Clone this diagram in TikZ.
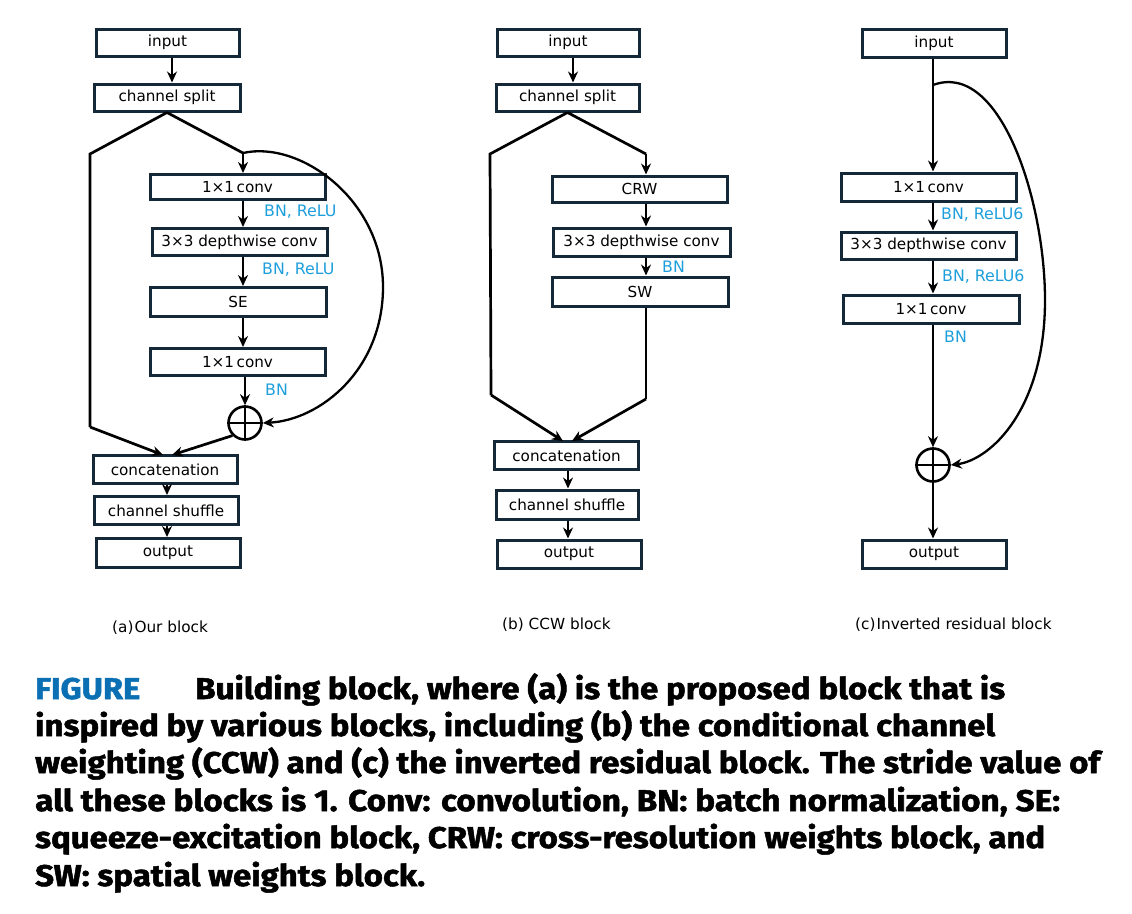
\documentclass[tikz,border=0pt]{standalone}
\usepackage{fontspec}
\usepackage{graphicx}
\usetikzlibrary{arrows.meta}
\newfontfamily\diagfont{DejaVu Sans}
\newfontfamily\capfont[BoldFeatures={FakeBold=1.6}]{Fira Sans}
\definecolor{boxc}{HTML}{142838}
\definecolor{lblc}{HTML}{1E9FDC}
\definecolor{figc}{HTML}{0B6FB3}
\tikzset{
  box/.style={draw=boxc, line width=3pt, inner sep=0pt, minimum height=27pt,
    font=\diagfont\fontsize{15.2}{18}\selectfont, text=black},
  lbl/.style={anchor=west, inner sep=0pt, text=lblc, font=\diagfont\fontsize{15.8}{18}\selectfont},
  sub/.style={anchor=west, inner sep=0pt, text=black, font=\diagfont\fontsize{15.3}{18}\selectfont},
  con/.style={line width=2.7pt, draw=black},
  arr/.style={con, -{Stealth[length=11pt,width=10pt]}},
  curv/.style={arr, line width=2.3pt},
  plus/.style={circle, draw=black, line width=2.6pt, minimum size=33pt, inner sep=0pt},
  capl/.style={anchor=base west, inner sep=0pt, font=\capfont\bfseries\fontsize{30}{36}\selectfont}
}
\begin{document}
\begin{tikzpicture}[x=1pt,y=-1pt]
\useasboundingbox (0,0) rectangle (1132,913);
\fill[white] (0,0) rectangle (1132,913);

% ---------------- panel (a) ----------------
\node[box, minimum width=143pt] (ain) at (167.5,42.5) {input};
\node[box, minimum width=146pt] (asp) at (167,97.5) {channel split};
\node[box, minimum width=175pt, minimum height=25pt] (a1) at (237.5,187) {1×1\,conv};
\node[box, minimum width=175pt] (a2) at (239.5,242) {3×3 depthwise conv};
\node[box, minimum width=176pt, minimum height=29pt] (a3) at (238,302) {SE};
\node[box, minimum width=175pt] (a4) at (237.5,362) {1×1\,conv};
\node[plus] (aplus) at (245,423) {};
\draw[con] (aplus.north) -- (aplus.south) (aplus.west) -- (aplus.east);
\node[box, minimum width=144pt, minimum height=28pt] (acat) at (165,469.5) {concatenation};
\node[box, minimum width=144pt, minimum height=28pt] (ash) at (166,510.5) {channel shuffle};
\node[box, minimum width=144pt, minimum height=29pt] (aout) at (168,553) {output};
\coordinate (ax) at (243,0);
\coordinate (asy) at (172,0);
\coordinate (aby) at (167,0);
\coordinate (aL1) at (90,154);
\coordinate (aL2) at (90,427);
\coordinate (aR1) at (243,153);
\coordinate (aM) at (383,287);
\coordinate (acatL) at (163,455);
\coordinate (acatR) at (172,455);

\draw[arr] (ain.south -| asy) -- (asp.north -| asy);
\draw[con] (asp.south) -- (aL1) -- (aL2);
\draw[arr] (aL2) -- (acatL);
\draw[con] (asp.south) -- (aR1);
\draw[arr] (aR1) -- (a1.north -| ax);
\draw[arr] (a1.south -| ax) -- (a2.north -| ax);
\draw[arr] (a2.south -| ax) -- (a3.north -| ax);
\draw[arr] (a3.south -| ax) -- (a4.north -| ax);
\draw[arr] (a4.south -| aplus) -- (aplus.north);
\draw[arr] (aplus.south west) -- (acatR);
\draw[curv] (aR1) .. controls (300,140) and (383,200) .. (aM) .. controls (383,370) and (320,420) .. (aplus.east);
\draw[arr] (acat.south -| aby) -- (ash.north -| aby);
\draw[arr] (ash.south -| aby) -- (aout.north -| aby);
\node[lbl] (al1) at (264,212) {BN, ReLU};
\node[lbl] (al2) at (262,269.5) {BN, ReLU};
\node[lbl] (al3) at (265,389.5) {BN};
\node[sub] (acap) at (112,627.5) {(a)\kern1pt Our block};

% ---------------- panel (b) ----------------
\node[box, minimum width=142pt] (bin) at (568,42.5) {input};
\node[box, minimum width=143pt] (bsp) at (567.5,97.5) {channel split};
\node[box, minimum width=175pt, minimum height=26pt] (b1) at (639.5,189) {CRW};
\node[box, minimum width=177pt, minimum height=28pt] (b2) at (641.5,242) {3×3 depthwise conv};
\node[box, minimum width=176pt, minimum height=29pt] (b3) at (640,291.5) {SW};
\node[box, minimum width=144pt, minimum height=28pt] (bcat) at (566.5,455.5) {concatenation};
\node[box, minimum width=142pt, minimum height=29pt] (bsh) at (567,504.5) {channel shuffle};
\node[box, minimum width=144pt, minimum height=28pt] (bout) at (569,554) {output};
\coordinate (bx) at (646,0);
\coordinate (bsy) at (573,0);
\coordinate (bby) at (568,0);
\coordinate (bL1) at (490,154);
\coordinate (bL2) at (491,395);
\coordinate (bR1) at (646,154);
\coordinate (bR2) at (646,399);
\coordinate (bcatL) at (563,441);
\coordinate (bcatR) at (572,441);
\draw[arr] (bin.south -| bsy) -- (bsp.north -| bsy);
\draw[con] (bsp.south) -- (bL1) -- (bL2);
\draw[arr] (bL2) -- (bcatL);
\draw[con] (bsp.south) -- (bR1);
\draw[arr] (bR1) -- (b1.north -| bx);
\draw[arr] (b1.south -| bx) -- (b2.north -| bx);
\draw[arr] (b2.south -| bx) -- (b3.north -| bx);
\draw[con] (b3.south -| bx) -- (bR2);
\draw[arr] (bR2) -- (bcatR);
\draw[arr] (bcat.south -| bby) -- (bsh.north -| bby);
\draw[arr] (bsh.south -| bby) -- (bout.north -| bby);
\node[lbl] (bl1) at (662,267) {BN};
\node[sub] (bcap) at (502,624.5) {(b) CCW block};

% ---------------- panel (c) ----------------
\node[box, minimum width=144pt, minimum height=28pt] (cin) at (934,43) {input};
\node[box, minimum width=175pt, minimum height=28pt] (c1) at (928.5,187) {1×1\,conv};
\node[box, minimum width=175pt, minimum height=27pt] (c2) at (928.5,245.5) {3×3 depthwise conv};
\node[box, minimum width=176pt, minimum height=28pt] (c3) at (931,309) {1×1\,conv};
\node[plus] (cplus) at (933,465) {};
\draw[con] (cplus.north) -- (cplus.south) (cplus.west) -- (cplus.east);
\node[box, minimum width=144pt, minimum height=28pt] (cout) at (934,554) {output};
\coordinate (cx) at (933,0);
\coordinate (cS) at (933,85);
\coordinate (cM) at (1045,300);
\draw[arr] (cin.south -| cx) -- (c1.north -| cx);
\draw[arr] (c1.south -| cx) -- (c2.north -| cx);
\draw[arr] (c2.south -| cx) -- (c3.north -| cx);
\draw[arr] (c3.south -| cx) -- (cplus.north);
\draw[arr] (cplus.south) -- (cout.north -| cx);
\draw[curv] (cS) .. controls (1000,60) and (1045,200) .. (cM) .. controls (1045,410) and (990,460) .. (cplus.east);
\node[lbl] (cl1) at (941,214.5) {BN, ReLU6};
\node[lbl] (cl2) at (942,276.5) {BN, ReLU6};
\node[lbl] (cl3) at (944,336.5) {BN};
\node[sub] (ccap) at (855,624.5) {(c)\kern1pt Inverted residual block};

% ---------------- caption ----------------
\node[capl, text=figc] (f0) at (35,699) {\resizebox{105pt}{\height}{FIGURE}};
\node[capl] (f1) at (195,699) {\resizebox{810pt}{\height}{Building block, where (a) is the proposed block that is}};
\node[capl] (f2) at (35,736) {\resizebox{960pt}{\height}{inspired by various blocks, including (b) the conditional channel}};
\node[capl] (f3) at (35,773) {\resizebox{1065pt}{\height}{weighting (CCW) and (c) the inverted residual block. The stride value of}};
\node[capl] (f4) at (35,811) {\resizebox{1025pt}{\height}{all these blocks is 1. Conv: convolution, BN: batch normalization, SE:}};
\node[capl] (f5) at (35,848) {\resizebox{1010pt}{\height}{squeeze-excitation block, CRW: cross-resolution weights block, and}};
\node[capl] (f6) at (35,886) {\resizebox{390pt}{\height}{SW: spatial weights block.}};
\end{tikzpicture}
\end{document}
